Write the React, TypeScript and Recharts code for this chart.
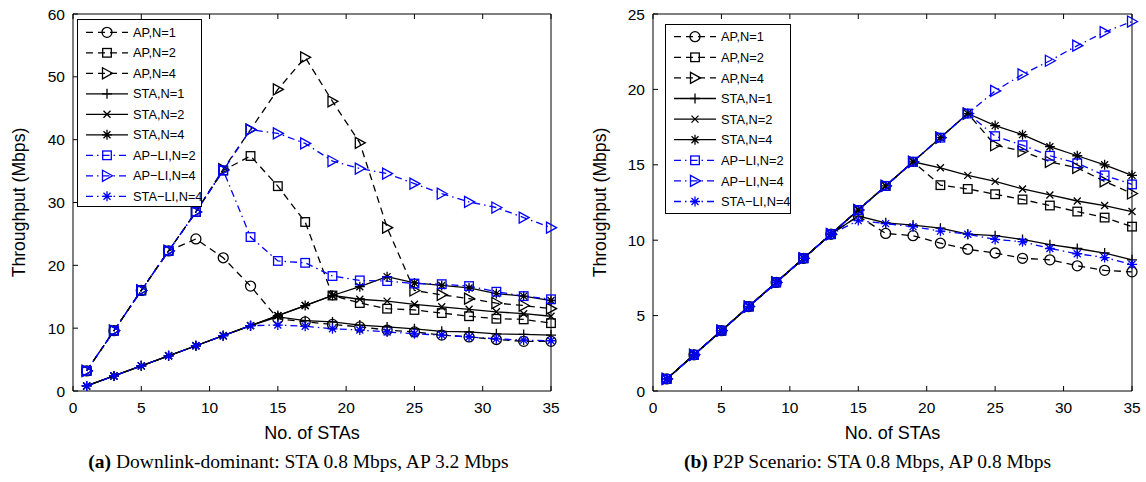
import React from 'react';
import { LineChart, Line, XAxis, YAxis } from 'recharts';

document.body.style.margin = '0';

// x positions (number of STAs)
const staCounts = [1, 3, 5, 7, 9, 11, 13, 15, 17, 19, 21, 23, 25, 27, 29, 31, 33, 35];
const xTicks = [0, 5, 10, 15, 20, 25, 30, 35];

// (a) downlink-dominant
const apN1A = [3.2, 9.6, 16.0, 22.3, 24.2, 21.2, 16.7, 11.5, 11.0, 10.6, 10.2, 9.7, 9.4, 8.9, 8.6, 8.2, 7.9, 7.9];
const apN2A = [3.2, 9.6, 16.0, 22.3, 28.5, 35.1, 37.4, 32.6, 26.9, 15.2, 14.0, 13.1, 12.9, 12.4, 11.9, 11.5, 11.4, 10.8];
const apN4A = [3.2, 9.6, 16.0, 22.3, 28.5, 35.3, 41.6, 48.0, 53.1, 46.1, 39.5, 26.0, 16.0, 15.3, 14.7, 14.0, 13.6, 13.1];
const staN1A = [0.8, 2.4, 4.0, 5.6, 7.2, 8.8, 10.4, 11.8, 11.2, 11.0, 10.5, 10.2, 9.9, 9.5, 9.4, 9.1, 9.0, 8.9];
const staN2A = [0.8, 2.4, 4.0, 5.6, 7.2, 8.8, 10.4, 12.0, 13.6, 15.2, 14.6, 14.3, 13.8, 13.4, 13.0, 12.6, 12.3, 11.9];
const staN4A = [0.8, 2.4, 4.0, 5.6, 7.2, 8.8, 10.4, 12.0, 13.6, 15.2, 16.6, 18.2, 17.2, 16.8, 16.4, 15.5, 15.1, 14.4];
const apLiN2A = [3.2, 9.6, 16.0, 22.3, 28.5, 35.1, 24.5, 20.7, 20.4, 18.3, 17.6, 17.5, 17.1, 17.0, 16.7, 15.8, 15.1, 14.6];
const apLiN4A = [3.2, 9.6, 16.0, 22.3, 28.5, 35.1, 41.6, 41.0, 39.4, 36.6, 35.4, 34.6, 33.0, 31.4, 30.1, 29.2, 27.6, 26.0];
const staLiN4A = [0.8, 2.4, 4.0, 5.6, 7.2, 8.8, 10.4, 10.5, 10.3, 9.9, 9.7, 9.4, 9.1, 8.9, 8.6, 8.3, 8.1, 8.0];
const yTicksA = [0, 10, 20, 30, 40, 50, 60];

// (b) P2P scenario
const apN1B = [0.8, 2.4, 4.0, 5.6, 7.2, 8.8, 10.4, 11.6, 10.45, 10.3, 9.8, 9.4, 9.15, 8.8, 8.7, 8.3, 8.0, 7.9];
const apN2B = [0.8, 2.4, 4.0, 5.6, 7.2, 8.8, 10.4, 12.0, 13.6, 15.2, 13.65, 13.4, 13.05, 12.7, 12.3, 11.9, 11.5, 10.9];
const apN4B = [0.8, 2.4, 4.0, 5.6, 7.2, 8.8, 10.4, 12.0, 13.6, 15.2, 16.8, 18.4, 16.3, 15.9, 15.2, 14.8, 13.9, 13.1];
const staN1B = [0.8, 2.4, 4.0, 5.6, 7.2, 8.8, 10.4, 11.6, 11.15, 11.0, 10.8, 10.4, 10.3, 10.05, 9.7, 9.45, 9.15, 8.7];
const staN2B = [0.8, 2.4, 4.0, 5.6, 7.2, 8.8, 10.4, 12.0, 13.6, 15.2, 14.8, 14.3, 13.9, 13.4, 13.0, 12.6, 12.3, 11.9];
const staN4B = [0.8, 2.4, 4.0, 5.6, 7.2, 8.8, 10.4, 12.0, 13.6, 15.2, 16.8, 18.4, 17.6, 17.0, 16.2, 15.6, 15.0, 14.3];
const apLiN2B = [0.8, 2.4, 4.0, 5.6, 7.2, 8.8, 10.4, 12.0, 13.6, 15.2, 16.8, 18.4, 16.9, 16.3, 15.6, 15.1, 14.3, 13.7];
const apLiN4B = [0.8, 2.4, 4.0, 5.6, 7.2, 8.8, 10.4, 12.0, 13.6, 15.2, 16.8, 18.4, 19.9, 21.0, 21.9, 22.9, 23.8, 24.5];
const staLiN4B = [0.8, 2.4, 4.0, 5.6, 7.2, 8.8, 10.4, 11.3, 11.1, 10.9, 10.6, 10.4, 10.05, 9.9, 9.45, 9.1, 8.85, 8.4];
const yTicksB = [0, 5, 10, 15, 20, 25];

type MarkerKind = 'circle' | 'square' | 'triangle' | 'plus' | 'cross' | 'star';

interface SeriesStyle {
  key: string;
  name: string;
  color: string;
  dash?: string;
  marker: MarkerKind;
}

const BLACK = '#000000';
const BLUE = '#0000ff';
const DASH = '7 5';
const DASH_DOT = '7 4 1.5 4';
const LINE_W = 1.3;

const seriesStyles: SeriesStyle[] = [
  { key: 'apN1', name: 'AP,N=1', color: BLACK, dash: DASH, marker: 'circle' },
  { key: 'apN2', name: 'AP,N=2', color: BLACK, dash: DASH, marker: 'square' },
  { key: 'apN4', name: 'AP,N=4', color: BLACK, dash: DASH, marker: 'triangle' },
  { key: 'staN1', name: 'STA,N=1', color: BLACK, marker: 'plus' },
  { key: 'staN2', name: 'STA,N=2', color: BLACK, marker: 'cross' },
  { key: 'staN4', name: 'STA,N=4', color: BLACK, marker: 'star' },
  { key: 'apLiN2', name: 'AP\u2212LI,N=2', color: BLUE, dash: DASH_DOT, marker: 'square' },
  { key: 'apLiN4', name: 'AP\u2212LI,N=4', color: BLUE, dash: DASH_DOT, marker: 'triangle' },
  { key: 'staLiN4', name: 'STA\u2212LI,N=4', color: BLUE, dash: DASH_DOT, marker: 'star' },
];

function buildRows(cols: Record<string, number[]>) {
  return staCounts.map((n, i) => {
    const row: Record<string, number> = { n };
    Object.keys(cols).forEach((k) => {
      row[k] = cols[k][i];
    });
    return row;
  });
}

const rowsA = buildRows({
  apN1: apN1A, apN2: apN2A, apN4: apN4A,
  staN1: staN1A, staN2: staN2A, staN4: staN4A,
  apLiN2: apLiN2A, apLiN4: apLiN4A, staLiN4: staLiN4A,
});

const rowsB = buildRows({
  apN1: apN1B, apN2: apN2B, apN4: apN4B,
  staN1: staN1B, staN2: staN2B, staN4: staN4B,
  apLiN2: apLiN2B, apLiN4: apLiN4B, staLiN4: staLiN4B,
});

const SANS = '"Liberation Sans", Arial, Helvetica, sans-serif';
const SERIF = '"Liberation Serif", "Times New Roman", serif';

function Marker({ cx, cy, kind, color }: { cx: number; cy: number; kind: MarkerKind; color: string }) {
  const common = { fill: 'none', stroke: color, strokeWidth: LINE_W };
  switch (kind) {
    case 'circle':
      return <circle cx={cx} cy={cy} r={5} {...common} />;
    case 'square':
      return <rect x={cx - 4.3} y={cy - 4.3} width={8.6} height={8.6} {...common} />;
    case 'triangle':
      return (
        <polygon
          points={`${cx + 5.5},${cy} ${cx - 4.5},${cy - 5.5} ${cx - 4.5},${cy + 5.5}`}
          {...common}
        />
      );
    case 'plus':
      return <path d={`M${cx - 5},${cy}H${cx + 5}M${cx},${cy - 5}V${cy + 5}`} {...common} />;
    case 'cross':
      return (
        <path
          d={`M${cx - 3.5},${cy - 3.5}L${cx + 3.5},${cy + 3.5}M${cx - 3.5},${cy + 3.5}L${cx + 3.5},${cy - 3.5}`}
          {...common}
        />
      );
    default:
      return (
        <path
          d={`M${cx - 5},${cy}H${cx + 5}M${cx},${cy - 5}V${cy + 5}M${cx - 3.5},${cy - 3.5}L${cx + 3.5},${cy + 3.5}M${cx - 3.5},${cy + 3.5}L${cx + 3.5},${cy - 3.5}`}
          {...common}
        />
      );
  }
}

function makeDot(s: SeriesStyle) {
  return (p: any) => {
    if (p.cx == null || p.cy == null) return <g key={`${s.key}-${p.index}`} />;
    return (
      <g key={`${s.key}-${p.index}`}>
        <Marker cx={p.cx} cy={p.cy} kind={s.marker} color={s.color} />
      </g>
    );
  };
}

function LegendBox({ left, top, width, height, rowStart, rowStep }: {
  left: number; top: number; width: number; height: number; rowStart: number; rowStep: number;
}) {
  return (
    <svg
      width={width}
      height={height}
      style={{ position: 'absolute', left, top, overflow: 'visible' }}
    >
      <rect x={0.5} y={0.5} width={width - 1} height={height - 1} fill="#fff" stroke="#000" strokeWidth={1} />
      {seriesStyles.map((s, i) => {
        const y = rowStart + i * rowStep;
        return (
          <g key={s.key}>
            <line x1={9} x2={51} y1={y} y2={y} stroke={s.color} strokeWidth={LINE_W} strokeDasharray={s.dash} />
            <Marker cx={30} cy={y} kind={s.marker} color={s.color} />
            <text x={56} y={y} dy="0.36em" fontSize={12.8} fontFamily={SANS} fill="#000">
              {s.name}
            </text>
          </g>
        );
      })}
    </svg>
  );
}

interface PanelProps {
  left: number;
  rows: Record<string, number>[];
  yMax: number;
  yTicks: number[];
  axisWidth: number;
  rightGap: number;
  labelOffset: number;
  captionPad: number;
  legend: { left: number; top: number; width: number; height: number; rowStart: number; rowStep: number };
  tag: string;
  caption: string;
}

function Panel({ left, rows, yMax, yTicks, axisWidth, rightGap, labelOffset, captionPad, legend, tag, caption }: PanelProps) {
  const tickStyle = { fontSize: 15.5, fontFamily: SANS, fill: '#000' };
  return (
    <div style={{ position: 'absolute', left, top: 0, width: 573, height: 482 }}>
      <LineChart
        width={573}
        height={482}
        data={rows}
        margin={{ top: 13, right: rightGap - 1, bottom: 41, left: 0 }}
      >
        <XAxis
          xAxisId="b"
          dataKey="n"
          type="number"
          domain={[0, 35]}
          ticks={xTicks}
          height={50}
          tickSize={-5}
          tickMargin={15.5}
          stroke="#000"
          tick={tickStyle}
          label={{ value: 'No. of STAs', position: 'insideTop', offset: 35, fontSize: 18, fontFamily: SANS, fill: '#000' }}
        />
        <XAxis
          xAxisId="t"
          orientation="top"
          dataKey="n"
          type="number"
          domain={[0, 35]}
          ticks={xTicks}
          height={1}
          tickSize={-5}
          stroke="#000"
          tickFormatter={() => ''}
        />
        <YAxis
          yAxisId="l"
          type="number"
          domain={[0, yMax]}
          ticks={yTicks}
          width={axisWidth}
          tickSize={-5}
          tickMargin={13}
          stroke="#000"
          tick={tickStyle}
          label={{
            value: 'Throughput (Mbps)',
            angle: -90,
            position: 'insideLeft',
            offset: labelOffset,
            fontSize: 17.6,
            fontFamily: SANS,
            fill: '#000',
            style: { textAnchor: 'middle' },
          }}
        />
        <YAxis
          yAxisId="r"
          orientation="right"
          type="number"
          domain={[0, yMax]}
          ticks={yTicks}
          width={1}
          tickSize={-5}
          stroke="#000"
          tickFormatter={() => ''}
        />
        {seriesStyles.map((s) => (
          <Line
            key={s.key}
            xAxisId="b"
            yAxisId="l"
            dataKey={s.key}
            name={s.name}
            type="linear"
            stroke={s.color}
            strokeWidth={LINE_W}
            strokeDasharray={s.dash}
            dot={makeDot(s)}
            activeDot={false}
            isAnimationActive={false}
          />
        ))}
      </LineChart>
      <LegendBox {...legend} />
      <div
        style={{
          position: 'absolute',
          left: 0,
          top: 451,
          width: 573,
          textAlign: 'center',
          fontFamily: SERIF,
          fontSize: 19.5,
          lineHeight: '22px',
          color: '#000',
          whiteSpace: 'nowrap',
          paddingLeft: captionPad,
          boxSizing: 'border-box',
        }}
      >
        <b>{tag}</b> {caption}
      </div>
    </div>
  );
}

export default function App() {
  return (
    <div style={{ position: 'relative', width: 1146, height: 482, background: '#fff' }}>
      <Panel
        left={0}
        rows={rowsA}
        yMax={60}
        yTicks={yTicksA}
        axisWidth={73}
        rightGap={22}
        labelOffset={19}
        captionPad={24}
        legend={{ left: 77, top: 19, width: 125, height: 188, rowStart: 13.3, rowStep: 20.5 }}
        tag="(a)"
        caption="Downlink-dominant: STA 0.8 Mbps, AP 3.2 Mbps"
      />
      <Panel
        left={573}
        rows={rowsB}
        yMax={25}
        yTicks={yTicksB}
        axisWidth={80}
        rightGap={14}
        labelOffset={27}
        captionPad={16}
        legend={{ left: 92, top: 24, width: 126, height: 190, rowStart: 12.7, rowStep: 20.6 }}
        tag="(b)"
        caption="P2P Scenario: STA 0.8 Mbps, AP 0.8 Mbps"
      />
    </div>
  );
}
